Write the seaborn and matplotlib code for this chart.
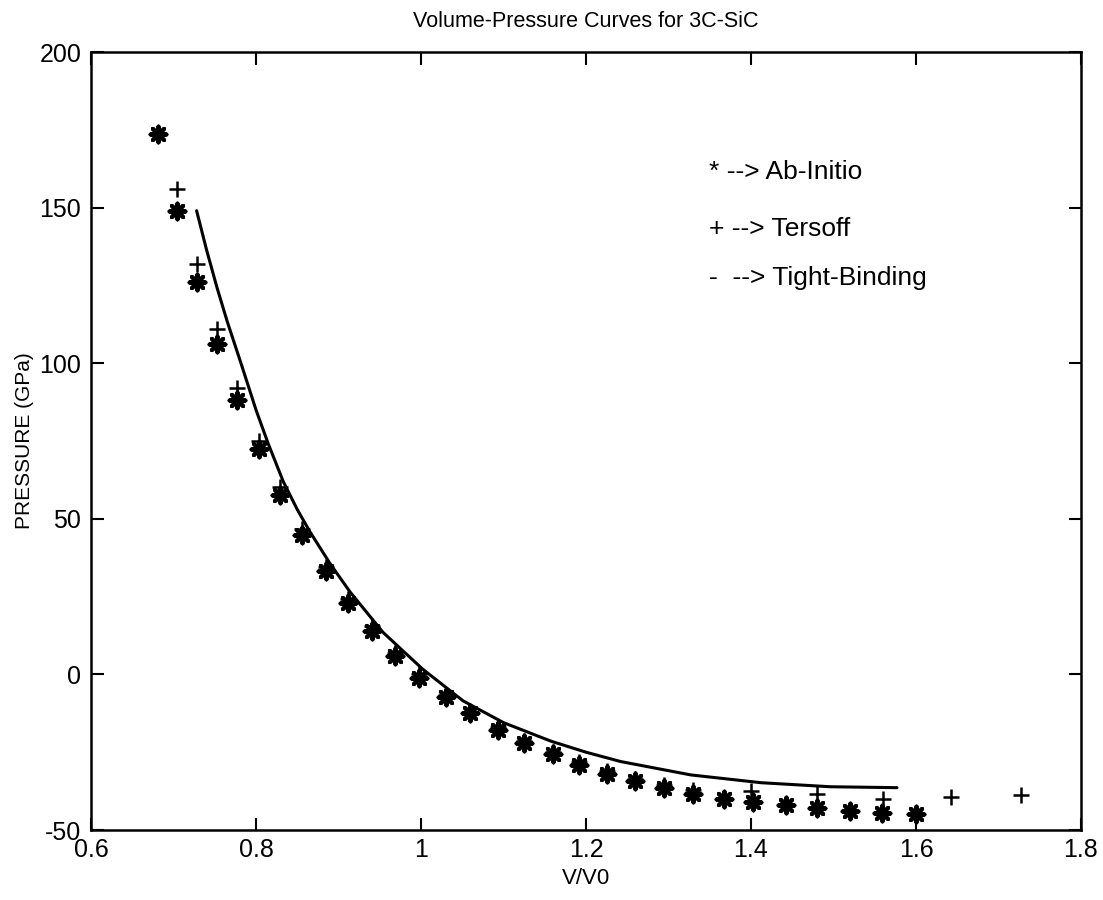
import numpy as np
import pandas as pd
import matplotlib
matplotlib.use("Agg")
import matplotlib.pyplot as plt
import seaborn as sns

# Ab-Initio data (asterisks)
abinitio_v = [0.681, 0.704, 0.728, 0.7525, 0.7775, 0.804, 0.8295, 0.856, 0.8845, 0.911,
              0.941, 0.969, 0.998, 1.030, 1.060, 1.093, 1.125, 1.160, 1.1915, 1.2254,
              1.259, 1.294, 1.330, 1.367, 1.402, 1.443, 1.480, 1.520, 1.559, 1.600]
abinitio_p = [173.5, 148.8, 126.0, 106.2, 88.1, 72.5, 57.8, 44.9, 33.1, 23.0,
              14.0, 5.8, -1.3, -7.4, -12.5, -17.8, -22.0, -25.5, -29.0, -32.0,
              -34.3, -36.5, -38.5, -40.0, -41.0, -42.0, -43.0, -43.8, -44.5, -45.0]

# Tersoff data (plus signs)
tersoff_v = [0.704, 0.728, 0.7525, 0.7775, 0.804, 0.8295, 0.856, 0.8845, 0.911, 0.941,
             0.969, 0.998, 1.030, 1.060, 1.093, 1.125, 1.160, 1.1915, 1.2254, 1.259,
             1.294, 1.330, 1.400, 1.480, 1.560, 1.642, 1.727]
tersoff_p = [156.0, 132.0, 111.0, 92.1, 75.0, 60.2, 46.8, 34.4, 24.3, 15.4,
             7.0, 0.0, -6.5, -12.0, -17.0, -21.3, -25.0, -28.3, -31.2, -33.6,
             -35.6, -37.0, -37.5, -38.5, -40.0, -39.5, -38.8]

# Tight-Binding curve (solid line)
tb_v = [0.728, 0.740, 0.7525, 0.765, 0.783, 0.800, 0.815, 0.833, 0.850, 0.865,
        0.890, 0.914, 0.954, 1.002, 1.051, 1.100, 1.158, 1.200, 1.242, 1.327,
        1.412, 1.496, 1.577]
tb_p = [149.0, 136.5, 124.5, 113.5, 99.0, 85.0, 74.0, 62.0, 53.0, 46.0,
        35.5, 26.5, 13.5, 1.7, -8.5, -15.5, -21.5, -25.0, -28.0, -32.3,
        -34.8, -36.1, -36.4]

x_ticks = [0.6, 0.8, 1.0, 1.2, 1.4, 1.6, 1.8]
x_tick_labels = ["0.6", "0.8", "1", "1.2", "1.4", "1.6", "1.8"]
y_ticks = [-50, 0, 50, 100, 150, 200]
y_tick_labels = ["-50", "0", "50", "100", "150", "200"]

legend_lines = ["* --> Ab-Initio", "+ --> Tersoff", "-  --> Tight-Binding"]
legend_p = [161.4, 143.2, 127.5]

sns.set_style("ticks")
plt.rcParams['font.family'] = ['Liberation Sans', 'DejaVu Sans']
plt.rcParams['text.color'] = 'black'
plt.rcParams['axes.labelcolor'] = 'black'
plt.rcParams['xtick.color'] = 'black'
plt.rcParams['ytick.color'] = 'black'

fig = plt.figure(figsize=(11.03, 9.0), dpi=100)
ax = fig.add_axes([91 / 1103, 1 - 830 / 900, (1081 - 91) / 1103, (830 - 52) / 900])

df_ab = pd.DataFrame({"v": abinitio_v, "p": abinitio_p})
df_te = pd.DataFrame({"v": tersoff_v, "p": tersoff_p})
df_tb = pd.DataFrame({"v": tb_v, "p": tb_p})

sns.lineplot(data=df_tb, x="v", y="p", ax=ax, color="black", linewidth=2.2,
             sort=False, estimator=None)
sns.scatterplot(data=df_ab, x="v", y="p", ax=ax, marker=(8, 2, 0), s=130,
                color="black", linewidth=2.9)
sns.scatterplot(data=df_te, x="v", y="p", ax=ax, marker="+", s=130,
                color="black", linewidth=1.8)

ax.set_xlim(0.6, 1.8)
ax.set_ylim(-50, 200)
ax.set_xticks(x_ticks)
ax.set_xticklabels(x_tick_labels)
ax.set_yticks(y_ticks)
ax.set_yticklabels(y_tick_labels)
ax.tick_params(direction="in", length=9, width=1.5, labelsize=18, top=True, right=True,
               colors="black", labelcolor="black")
ax.tick_params(axis="x", pad=6)
ax.tick_params(axis="y", pad=7)
for s in ax.spines.values():
    s.set_visible(True)
    s.set_linewidth(1.8)
    s.set_color("black")

ax.set_xlabel("V/V0", fontsize=16, labelpad=4, color="black")
ax.set_ylabel("PRESSURE (GPa)", fontsize=15, labelpad=4, color="black")
ax.set_title("Volume-Pressure Curves for 3C-SiC", fontsize=15.5, pad=18, color="black")

for txt, yp in zip(legend_lines, legend_p):
    ax.text(1.349, yp, txt, fontsize=19, ha="left", va="center", color="black")

fig.savefig("out.png", dpi=100, facecolor="white")
